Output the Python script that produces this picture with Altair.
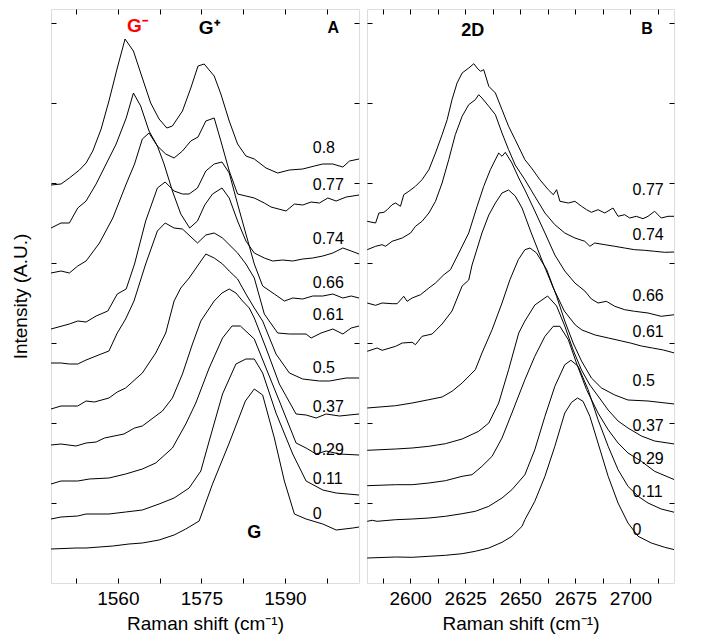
import altair as alt
import pandas as pd

# ---------------- Panel A : G band (x in cm-1, y in arbitrary units) -------------
A_labels = ["0", "0.11", "0.29", "0.37", "0.5", "0.61", "0.66", "0.74", "0.77", "0.8"]

A_0_x = [1548.0,1552.5,1554.3,1559.1,1562.0,1564.4,1567.4,1570.1,1572.2,1574.6,1577.0,1580.0,1582.9,1584.5,1586.0,1588.1,1589.9,1591.7,1593.8,1596.8,1599.2,1602.2,1603.3]
A_0_y = [34,35,35,37,39,40,43,48,54,62,99,140,182,194,188,145,102,69,64,59,53,55,56]

A_011_x = [1548.0,1549.8,1552.8,1554.3,1558.4,1561.4,1564.4,1567.4,1570.1,1572.8,1574.9,1576.4,1578.8,1581.2,1583.0,1584.5,1586.0,1588.4,1591.4,1593.8,1596.8,1599.2,1603.3]
A_011_y = [64,66,67,69,69,71,73,79,85,95,112,142,189,219,224,224,210,170,129,102,93,90,88]

A_029_x = [1548.0,1549.8,1552.8,1554.9,1558.4,1561.4,1564.4,1566.8,1569.8,1572.2,1574.0,1576.4,1578.8,1580.5,1582.0,1584.5,1586.6,1589.0,1592.0,1593.8,1595.6,1597.4,1599.8,1603.3]
A_029_y = [99,102,102,104,105,109,114,120,135,159,180,215,245,257,257,244,215,182,140,135,129,132,129,128]

A_037_x = [1548.0,1549.8,1552.5,1554.3,1556.1,1557.6,1561.1,1563.0,1564.4,1568.0,1569.8,1571.6,1573.4,1574.9,1577.3,1578.7,1580.0,1581.2,1582.4,1583.6,1584.5,1586.6,1589.0,1592.0,1593.8,1595.6,1597.4,1599.8,1603.3]
A_037_y = [138,139,137,140,141,145,149,155,157,172,185,209,239,262,282,290,294,290,282,275,265,235,199,169,168,165,169,167,169]

A_05_x = [1548.0,1549.8,1552.8,1554.3,1555.8,1558.4,1559.9,1561.4,1564.4,1566.8,1568.6,1570.1,1571.3,1572.8,1574.3,1575.8,1577.3,1578.8,1580.0,1581.5,1583.0,1584.5,1586.0,1588.4,1590.8,1593.2,1596.2,1598.0,1601.0,1603.3]
A_05_y = [174,177,177,182,181,185,191,195,210,230,250,282,295,305,317,329,325,319,312,304,289,275,262,229,210,204,202,202,205,205]

A_061_x = [1548.0,1549.8,1551.3,1552.8,1554.3,1557.0,1558.4,1559.9,1561.4,1562.9,1565.0,1567.1,1568.5,1570.1,1571.6,1574.3,1575.8,1577.3,1578.8,1581.5,1583.0,1584.5,1586.3,1588.7,1590.8,1593.8,1594.7,1596.5,1598.6,1600.4,1601.9,1603.3]
A_061_y = [220,220,219,219,223,229,232,250,264,282,319,352,360,355,354,340,348,350,345,330,319,305,269,250,249,249,245,250,254,249,255,257]

A_066_x = [1548.0,1551.3,1552.8,1554.3,1556.1,1558.2,1559.9,1561.5,1563.0,1565.0,1567.1,1568.5,1570.1,1571.6,1572.8,1574.3,1575.8,1577.3,1578.7,1580.0,1581.5,1583.0,1584.5,1586.0,1588.1,1589.9,1591.4,1593.2,1595.0,1596.8,1598.6,1600.4,1601.9,1603.3]
A_066_y = [254,259,262,261,267,272,289,294,319,362,395,401,392,389,389,395,412,419,421,410,379,349,319,297,289,282,285,284,287,287,289,285,287,285]

A_074_x = [1548.0,1549.8,1551.3,1552.8,1554.3,1556.7,1559.1,1561.5,1563.0,1564.4,1565.6,1567.1,1568.3,1569.8,1571.3,1572.9,1574.3,1575.6,1577.0,1578.7,1580.0,1581.5,1583.0,1584.5,1586.3,1587.8,1589.6,1591.4,1593.2,1595.0,1596.8,1598.6,1600.4,1601.9,1603.3]
A_074_y = [310,312,310,317,322,340,365,399,419,444,450,437,419,392,369,355,362,378,389,395,385,362,342,330,325,322,323,322,324,325,327,330,335,332,329]

A_077_x = [1548.0,1549.8,1551.3,1552.8,1554.3,1556.1,1557.9,1559.7,1561.5,1562.8,1564.1,1565.6,1567.1,1568.6,1570.1,1571.6,1573.1,1574.4,1575.8,1577.3,1578.5,1580.0,1581.5,1583.0,1584.5,1586.3,1587.5,1590.2,1591.7,1593.2,1594.7,1596.2,1597.7,1599.2,1601.0,1603.3]
A_077_y = [355,360,360,375,382,399,419,439,465,490,477,452,437,429,425,432,442,446,462,465,442,412,389,387,385,380,376,372,379,378,381,380,385,382,386,388]

A_08_x = [1548.0,1549.8,1551.3,1553.1,1554.3,1555.5,1557.0,1558.4,1559.9,1561.3,1562.8,1564.4,1565.9,1567.4,1568.8,1569.8,1571.6,1573.1,1574.4,1575.5,1577.3,1578.5,1580.0,1581.5,1583.0,1584.5,1586.6,1588.7,1590.8,1593.2,1595.3,1596.8,1598.6,1600.4,1601.6,1603.3]
A_08_y = [398,399,405,413,420,432,454,482,515,544,532,505,480,464,455,457,472,495,517,519,507,489,462,439,427,424,415,410,413,414,417,419,419,416,422,424]

A_label_y = [68.7, 103.7, 133, 176, 215.3, 268, 300.3, 344, 398, 435.3]
A_label_x = 1595.0

# ---------------- Panel B : 2D band -------------
B_labels = ["0", "0.11", "0.29", "0.37", "0.5", "0.61", "0.66", "0.74", "0.77"]

B_0_x = [2580.5,2593.4,2600.9,2608.5,2616.0,2623.6,2629.6,2635.7,2641.7,2646.2,2650.8,2652.1,2656.6,2661.2,2665.7,2670.2,2673.3,2676.0,2678.5,2681.6,2685.3,2689.9,2694.4,2698.9,2703.5,2709.5,2715.6,2720.0]
B_0_y = [25,26,25.7,26.7,27.7,29.3,31.7,35,40.7,46.7,56.7,63.3,81.7,106.7,136.7,170,180.7,185,181.7,166.7,140,106.7,80,60,46.7,40,35.7,33.3]

B_011_x = [2580.5,2582.8,2585.0,2593.4,2600.9,2608.5,2616.0,2623.6,2629.6,2635.7,2641.7,2646.2,2652.1,2656.6,2661.2,2665.7,2670.2,2673.0,2676.3,2680.8,2685.3,2689.9,2694.4,2698.9,2703.5,2708.0,2714.0,2720.0]
B_011_y = [61.7,62.7,61.7,63.3,64,65,66.7,69.3,71.7,76.7,85,93.3,108.3,133.3,166.7,196.7,218.3,222.7,216.7,193.3,163.3,136.7,113.3,96.7,86.7,80,74,70.7]

B_029_x = [2580.5,2593.4,2600.9,2608.5,2616.0,2623.6,2628.1,2632.6,2637.2,2641.7,2646.2,2652.1,2656.6,2661.2,2665.0,2668.0,2671.8,2675.5,2680.1,2685.3,2689.9,2694.4,2698.9,2705.0,2711.0,2720.0]
B_029_y = [97.3,98.3,98.3,100,102.3,106.7,108.3,116.7,126.7,145,170,203.3,226.7,246.7,256.7,256.7,243.3,220,193.3,170,153.3,140,130,121.7,111.7,103.3]

B_037_x = [2580.5,2593.4,2600.9,2608.5,2616.0,2623.6,2631.1,2635.7,2640.2,2644.7,2649.3,2652.1,2656.6,2662.4,2666.5,2670.2,2674.0,2677.8,2681.6,2685.3,2689.9,2694.4,2698.9,2705.0,2711.0,2720.0]
B_037_y = [132.7,134,135,136.7,139.3,144,151.7,160,180,213.3,250,262,278,287,277,257,233,213,198,187,173,162,155,147,142,139]

B_05_x = [2580.5,2593.4,2600.9,2608.5,2614.5,2619.0,2623.6,2629.6,2632.6,2637.2,2641.7,2645.3,2649.1,2652.1,2654.4,2657.4,2662.0,2666.5,2670.2,2674.0,2677.8,2682.3,2686.9,2692.9,2698.9,2708.0,2720.0]
B_05_y = [175,177.3,180,183.3,186,191.7,200,213.3,230,253.3,280,303.3,323.3,333.3,335,330,313.3,286.7,262,240,222,205,195,188,183,182,179]

B_061_x = [2580.5,2585.0,2587.3,2593.4,2596.4,2600.9,2602.4,2605.4,2610.0,2614.5,2619.0,2623.6,2626.6,2628.1,2632.6,2635.7,2638.7,2641.7,2644.7,2647.7,2650.8,2655.0,2660.0,2665.0,2670.0,2675.0,2678.0,2684.0,2690.0,2696.0,2700.0,2705.0,2710.0,2715.0,2720.0]
B_061_y = [231.7,235,232.7,236.7,240,240.7,238.3,246.7,249,259,272,297,303,318,350,368,380,390,393,387,375,350,322,295,272,258,253,248,245,242,240,237,235,233,230]

B_066_x = [2580.5,2584.3,2587.3,2591.8,2594.1,2597.1,2598.6,2600.9,2604.7,2608.5,2611.5,2615.3,2618.3,2622.1,2626.6,2630.4,2633.4,2636.4,2640.2,2641.7,2643.2,2646.2,2649.3,2652.1,2656.6,2661.2,2665.7,2670.2,2674.8,2679.3,2682.3,2685.3,2689.1,2692.9,2697.4,2701.9,2708.0,2714.0,2720.0]
B_066_y = [280,277.7,280,279.3,279.3,286.7,281.7,285,288.3,295,300,308.3,313.3,330,350,376.7,396.7,413.3,430,426.7,430.7,420,405,393,372,350,328,312,300,292,284,280,281.7,276.7,273.3,271.7,270,266.7,268.3]

B_074_x = [2580.5,2584.3,2587.3,2588.8,2591.8,2596.4,2600.2,2602.4,2605.4,2608.5,2611.5,2614.5,2617.5,2620.5,2623.6,2626.6,2629.6,2631.1,2632.6,2635.7,2638.7,2641.7,2644.7,2647.7,2652.1,2656.6,2661.2,2665.7,2670.2,2674.8,2679.3,2681.6,2683.8,2688.4,2692.9,2697.4,2701.9,2706.5,2711.0,2715.6,2720.0]
B_074_y = [333.3,336.7,338.3,336.7,341.7,345,350,356.7,361.7,370,381.7,400,423.3,448.3,466.7,478.3,483.3,488.3,485,476.7,468.3,450,433.3,418,403.3,386.7,370,358.3,350,345,341.7,336.7,340,338.3,336.7,335,333.3,332.7,331.7,330.7,331]

B_077_x = [2580.5,2584.3,2585.8,2588.1,2589.6,2591.8,2593.4,2595.6,2597.1,2599.4,2602.4,2605.4,2608.5,2611.5,2614.5,2616.8,2619.0,2621.3,2623.6,2626.6,2628.9,2630.4,2631.9,2633.4,2635.7,2638.7,2641.7,2644.7,2647.7,2652.1,2655.1,2658.9,2662.7,2665.0,2666.5,2668.0,2671.8,2674.8,2677.8,2680.1,2682.3,2685.3,2688.4,2692.1,2694.4,2697.4,2699.7,2702.7,2705.7,2708.0,2711.0,2714.0,2717.1,2720.0]
B_077_y = [361.7,360,370,370.7,373.3,378.3,380,376.7,388.3,391.7,396.7,403.3,413.3,430,448.3,463.3,483.3,500,510,515,519.3,515,511.7,513.3,496.7,490,473.3,456.7,443.3,423.3,415,403.3,393.3,388.3,393.3,381.7,380,381.7,376.7,373.3,370.7,373.3,370,375,366.7,368.3,365,366.7,364.3,366.7,371.7,365,366.7,366.7]

B_label_y = [53.3, 91, 124.3, 157.3, 201.7, 250.7, 287.3, 348.3, 392.7]
B_label_x = 2701.0

# annotations
A_notes = [("G\u207b", 1563.5, 557, "#ff0000", 19), ("G\u207a", 1576.4, 555, "black", 19),
           ("A", 1598.7, 555, "black", 16), ("G", 1584.5, 50, "black", 18)]
B_notes = [("2D", 2628.4, 552, "black", 18), ("B", 2707.6, 554, "black", 16)]

A_xticks = [1552.5, 1560, 1567.5, 1575, 1582.5, 1590, 1597.5]
B_xticks = [2587.5, 2600, 2612.5, 2625, 2637.5, 2650, 2662.5, 2675, 2687.5, 2700, 2712.5]
y_ticks = [80, 160, 240, 320, 400, 480, 560]

A_series = [(A_0_x, A_0_y), (A_011_x, A_011_y), (A_029_x, A_029_y), (A_037_x, A_037_y),
            (A_05_x, A_05_y), (A_061_x, A_061_y), (A_066_x, A_066_y), (A_074_x, A_074_y),
            (A_077_x, A_077_y), (A_08_x, A_08_y)]
B_series = [(B_0_x, B_0_y), (B_011_x, B_011_y), (B_029_x, B_029_y), (B_037_x, B_037_y),
            (B_05_x, B_05_y), (B_061_x, B_061_y), (B_066_x, B_066_y), (B_074_x, B_074_y),
            (B_077_x, B_077_y)]

FONT = "Liberation Sans"


def lines_df(labels, series):
    rows = []
    for lab, (xs, ys) in zip(labels, series):
        for i, (x, y) in enumerate(zip(xs, ys)):
            rows.append({"s": lab, "x": x, "y": y, "o": i})
    return pd.DataFrame(rows)


def panel(labels, series, label_y, label_x, notes, domain, xticks, mod, ytitle, width):
    xs = alt.Scale(domain=domain, nice=False, zero=False)
    ys = alt.Scale(domain=[0, 574], nice=False, zero=False)
    common = dict(tickSize=5, offset=-5, domain=False, grid=False, tickColor="black",
                  tickWidth=1)
    bottom = alt.Axis(orient="bottom", values=xticks, format="d",
                      labelExpr=f"datum.value % {mod} == 0 ? datum.label : ''",
                      labelFont=FONT, labelFontSize=19, labelColor="black", labelPadding=6,
                      title="Raman shift (cm\u207b\u00b9)", titleFont=FONT, titleFontSize=19,
                      titleFontWeight="normal", titleColor="black", titlePadding=6, **common)
    top = alt.Axis(orient="top", values=xticks, labels=False, title=None, **common)
    if ytitle:
        left = alt.Axis(orient="left", values=y_ticks, labels=False, title=ytitle,
                        titleFont=FONT, titleFontSize=19, titleFontWeight="normal",
                        titleColor="black", titlePadding=20, **common)
    else:
        left = alt.Axis(orient="left", values=y_ticks, labels=False, title=None, **common)
    right = alt.Axis(orient="right", values=y_ticks, labels=False, title=None, **common)

    df = lines_df(labels, series)
    lines = alt.Chart(df).mark_line(color="black", strokeWidth=1, clip=True).encode(
        x=alt.X("x:Q", scale=xs, axis=bottom),
        y=alt.Y("y:Q", scale=ys, axis=left),
        detail="s:N",
        order="o:Q",
    )
    ldf = pd.DataFrame({"t": labels, "y": label_y, "x": [label_x] * len(labels)})
    text = alt.Chart(ldf).mark_text(align="left", baseline="middle", font=FONT,
                                    fontSize=16, color="black").encode(
        x=alt.X("x:Q", scale=xs, axis=top),
        y=alt.Y("y:Q", scale=ys, axis=right),
        text="t:N",
    )
    ndf = pd.DataFrame(notes, columns=["t", "x", "y", "c", "fs"])
    ann = alt.Chart(ndf).mark_text(align="center", baseline="middle", font=FONT,
                                   fontWeight="bold").encode(
        x=alt.X("x:Q", scale=xs, axis=None),
        y=alt.Y("y:Q", scale=ys, axis=None),
        text="t:N",
        color=alt.Color("c:N", scale=None),
        size=alt.Size("fs:Q", scale=None),
    )
    return alt.layer(lines, text, ann).resolve_axis(x="independent", y="independent").properties(
        width=width, height=574)


pA = panel(A_labels, A_series, A_label_y, A_label_x, A_notes, [1548.0, 1603.3], A_xticks, 15,
           "Intensity (A.U.)", 308)
pB = panel(B_labels, B_series, B_label_y, B_label_x, B_notes, [2580.4, 2719.8], B_xticks, 25,
           None, 307)

chart = alt.hconcat(pA, pB, spacing=6).properties(
    padding={"left": 3, "top": 0, "right": 0, "bottom": 0}
).configure_view(stroke="black", strokeWidth=1.5).configure(background="white")

chart.save("out.html", embed_options={"renderer": "svg", "actions": False})
